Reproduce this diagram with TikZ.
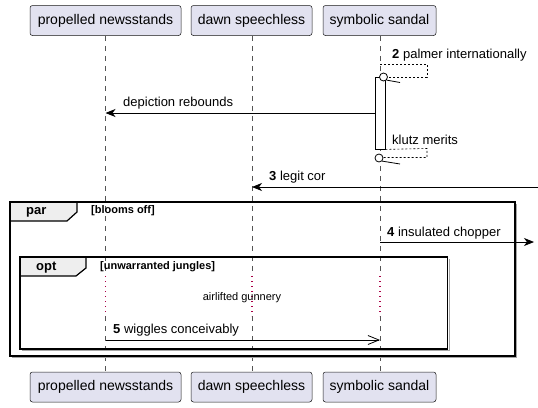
\documentclass[tikz,border=0pt]{standalone}
\usepackage{fontspec}
\setmainfont{Liberation Sans}
\usetikzlibrary{arrows.meta}
\definecolor{partfill}{HTML}{E2E2F0}
\definecolor{partline}{HTML}{181818}
\definecolor{tabfill}{HTML}{EEEEEE}
\definecolor{delaycol}{RGB}{170,0,70}
\definecolor{lifecol}{HTML}{555555}
\tikzset{
  part/.style={draw=partline, fill=partfill, line width=0.5pt, rounded corners=2.5pt, inner sep=0pt,
    minimum height=30pt, font=\fontsize{14}{16}\selectfont},
  lifeline/.style={draw=lifecol, line width=0.5pt, dash pattern=on 5pt off 5pt},
  delayline/.style={draw=delaycol, line width=1.2pt, dash pattern=on 1pt off 4pt},
  msg/.style={draw=black, line width=0.8pt, -{Stealth[length=10pt,width=8pt,inset=3pt]}},
  openmsg/.style={draw=black, line width=0.8pt, -{Straight Barb[length=11pt,width=9pt,line width=0.8pt]}},
  selfmsg/.style={draw=black, line width=0.6pt, dash pattern=on 2pt off 2pt},
  lbl/.style={anchor=west, inner sep=0pt, font=\fontsize{13}{15}\selectfont},
  framebox/.style={draw=black, line width=1.5pt},
  frameshadow/.style={draw=gray!70, line width=1.2pt},
  tabbox/.style={draw=black, fill=tabfill, line width=1.2pt},
  tabtext/.style={anchor=west, inner sep=0pt, font=\fontsize{13}{15}\selectfont\bfseries},
  guardtext/.style={anchor=west, inner sep=0pt, font=\fontsize{11}{13}\selectfont\bfseries},
  actbar/.style={draw=black, fill=white, line width=0.8pt},
  lostcirc/.style={draw=black, line width=0.8pt, fill=white}
}
\begin{document}
\begin{tikzpicture}[x=1pt,y=-1pt]
\useasboundingbox (0,0) rectangle (538,407);

% participants
\node[part, minimum width=151pt] (p1t) at (105.5,20.5) {propelled newsstands};
\node[part, minimum width=121pt] (p2t) at (251.5,20.5) {dawn speechless};
\node[part, minimum width=113pt] (p3t) at (379.5,20.5) {symbolic sandal};
\node[part, minimum width=151pt] (p1b) at (105.5,387) {propelled newsstands};
\node[part, minimum width=121pt] (p2b) at (251.5,387) {dawn speechless};
\node[part, minimum width=113pt] (p3b) at (379.5,387) {symbolic sandal};

% delay coordinates
\coordinate (d1a) at (105.5,276); \coordinate (d1b) at (105.5,316);
\coordinate (d2a) at (252,276);   \coordinate (d2b) at (252,316);
\coordinate (d3a) at (380,276);   \coordinate (d3b) at (380,316);

% lifelines
\draw[lifeline] (p1t.south) -- (d1a);
\draw[lifeline] (d1b) -- (p1b.north);
\draw[lifeline] (p2t.south -| d2a) -- (d2a);
\draw[lifeline] (d2b) -- (p2b.north -| d2b);
\draw[lifeline] (p3t.south -| d3a) -- (d3a);
\draw[lifeline] (d3b) -- (p3b.north -| d3b);
\draw[delayline] (d1a) -- (d1b);
\draw[delayline] (d2a) -- (d2b);
\draw[delayline] (d3a) -- (d3b);

% activation bar
\node[actbar, minimum width=10pt, minimum height=72pt, inner sep=0pt] (act) at (380,113) {};

% message 2 (self, lost)
\coordinate (s2a) at (380,64);
\coordinate (s2b) at (427,64);
\coordinate (s2c) at (427,77);
\node[lostcirc, circle, minimum size=8pt, inner sep=0pt] (c2) at (383.5,77) {};
\draw[selfmsg] (s2a) -- (s2b) -- (s2c) -- (c2.east);
\coordinate (b2) at (400,82.5);
\draw[black, line width=0.8pt] (c2.south east) -- (b2);
\node[lbl] (t2) at (392,55) {{\bfseries 2} palmer internationally};

% depiction rebounds
\coordinate (m1e) at (105.5,113);
\draw[msg] (act.west |- m1e) -- (m1e);
\node[lbl] (t1) at (123,103.5) {depiction rebounds};

% klutz merits (self, lost)
\coordinate (s3b) at (427,148.5);
\coordinate (s3c) at (427,157.5);
\node[lostcirc, circle, minimum size=8pt, inner sep=0pt] (c3) at (379,158) {};
\draw[selfmsg] (act.south east) -- (s3b) -- (s3c) -- (c3.east |- s3c);
\coordinate (b3) at (400,164);
\draw[black, line width=0.8pt] (c3.south east) -- (b3);
\node[lbl] (t3) at (392,140) {klutz merits};

% 3 legit cor
\coordinate (m3s) at (538,187);
\coordinate (m3e) at (252,187);
\draw[msg] (m3s) -- (m3e);
\node[lbl] (t4) at (269,177.5) {{\bfseries 3} legit cor};

% par frame
\draw[frameshadow] (516.5,204) -- (516.5,357.3) -- (12,357.3);
\draw[tabbox] (10,202) -- (77,202) -- (77,212) -- (67,221) -- (10,221) -- cycle;
\draw[framebox] (10,202) rectangle (515,356);
\node[tabtext] (par) at (26,212) {par};
\node[guardtext] (g1) at (91,211) {[blooms off]};

% 4 insulated chopper
\coordinate (m4s) at (380,242);
\coordinate (m4e) at (534,242);
\draw[msg] (m4s) -- (m4e);
\node[lbl] (t5) at (387,233) {{\bfseries 4} insulated chopper};

% opt frame
\draw[frameshadow] (449.2,259) -- (449.2,350.3) -- (22,350.3);
\draw[tabbox] (20,257) -- (86,257) -- (86,268) -- (76,276) -- (20,276) -- cycle;
\draw[framebox] (20,257) rectangle (447.5,349);
\node[tabtext] (opt) at (36,268) {opt};
\node[guardtext] (g2) at (100,267) {[unwarranted jungles]};

% delay text
\node[inner sep=0pt, font=\fontsize{11}{13}\selectfont] (dl) at (242,297.5) {airlifted gunnery};

% 5 wiggles conceivably
\coordinate (m5s) at (105.5,340);
\coordinate (m5e) at (380,340);
\draw[openmsg] (m5s) -- (m5e);
\node[lbl] (t6) at (113,330) {{\bfseries 5} wiggles conceivably};
\end{tikzpicture}
\end{document}
